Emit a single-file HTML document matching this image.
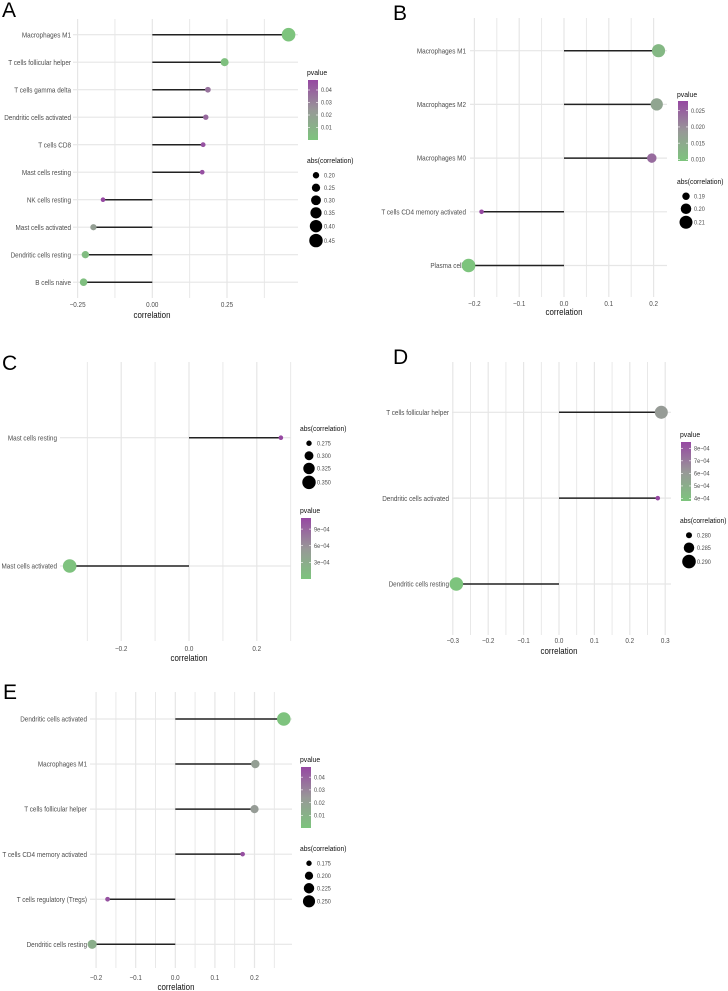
<!DOCTYPE html>
<html><head><meta charset="utf-8"><style>
html,body{margin:0;padding:0;background:#fff;}
svg{display:block;font-family:"Liberation Sans",Arial,sans-serif;}
</style></head><body>
<svg id="chart" width="728" height="991" viewBox="0 0 728 991" xmlns="http://www.w3.org/2000/svg"></svg>
<script>
// ---- Panel A data ----
const aCategories = ["Macrophages M1","T cells follicular helper","T cells gamma delta","Dendritic cells activated","T cells CD8","Mast cells resting","NK cells resting","Mast cells activated","Dendritic cells resting","B cells naive"];
const aCorrelation = [0.456,0.242,0.186,0.179,0.170,0.167,-0.165,-0.197,-0.224,-0.230];
const aPvalue = [0.0001,0.002,0.035,0.038,0.045,0.046,0.048,0.02,0.004,0.003];
const aTicks = [-0.25,0,0.25];
const aTickLabels = ["\u22120.25","0.00","0.25"];
const aPLegend = [0.04,0.03,0.02,0.01];
const aPLegendLabels = ["0.04","0.03","0.02","0.01"];
const aSizeLegend = [0.20,0.25,0.30,0.35,0.40,0.45];
const aSizeLegendLabels = ["0.20","0.25","0.30","0.35","0.40","0.45"];
// ---- Panel B data ----
const bCategories = ["Macrophages M1","Macrophages M2","Macrophages M0","T cells CD4 memory activated","Plasma cells"];
const bCorrelation = [0.211,0.207,0.196,-0.184,-0.213];
const bPvalue = [0.012,0.016,0.024,0.028,0.0095];
const bTicks = [-0.2,-0.1,0,0.1,0.2];
const bTickLabels = ["\u22120.2","\u22120.1","0.0","0.1","0.2"];
const bPLegend = [0.025,0.020,0.015,0.010];
const bPLegendLabels = ["0.025","0.020","0.015","0.010"];
const bSizeLegend = [0.19,0.20,0.21];
const bSizeLegendLabels = ["0.19","0.20","0.21"];
// ---- Panel C data ----
const cCategories = ["Mast cells resting","Mast cells activated"];
const cCorrelation = [0.271,-0.352];
const cPvalue = [0.0011,0.00002];
const cTicks = [-0.2,0,0.2];
const cTickLabels = ["\u22120.2","0.0","0.2"];
const cPLegend = [0.0009,0.0006,0.0003];
const cPLegendLabels = ["9e\u221204","6e\u221204","3e\u221204"];
const cSizeLegend = [0.275,0.300,0.325,0.350];
const cSizeLegendLabels = ["0.275","0.300","0.325","0.350"];
// ---- Panel D data ----
const dCategories = ["T cells follicular helper","Dendritic cells activated","Dendritic cells resting"];
const dCorrelation = [0.289,0.279,-0.290];
const dPvalue = [0.0006,0.00085,0.00038];
const dTicks = [-0.3,-0.2,-0.1,0,0.1,0.2,0.3];
const dTickLabels = ["\u22120.3","\u22120.2","\u22120.1","0.0","0.1","0.2","0.3"];
const dPLegend = [0.0008,0.0007,0.0006,0.0005,0.0004];
const dPLegendLabels = ["8e\u221204","7e\u221204","6e\u221204","5e\u221204","4e\u221204"];
const dSizeLegend = [0.280,0.285,0.290];
const dSizeLegendLabels = ["0.280","0.285","0.290"];
// ---- Panel E data ----
const eCategories = ["Dendritic cells activated","Macrophages M1","T cells follicular helper","T cells CD4 memory activated","T cells regulatory (Tregs)","Dendritic cells resting"];
const eCorrelation = [0.274,0.202,0.200,0.170,-0.171,-0.210];
const ePvalue = [0.0005,0.02,0.022,0.046,0.045,0.012];
const eTicks = [-0.2,-0.1,0,0.1,0.2];
const eTickLabels = ["\u22120.2","\u22120.1","0.0","0.1","0.2"];
const ePLegend = [0.04,0.03,0.02,0.01];
const ePLegendLabels = ["0.04","0.03","0.02","0.01"];
const eSizeLegend = [0.175,0.200,0.225,0.250];
const eSizeLegendLabels = ["0.175","0.200","0.225","0.250"];

const NS="http://www.w3.org/2000/svg";
const svg=document.getElementById('chart');
function mk(tag,attrs,parent){const e=document.createElementNS(NS,tag);for(const k in attrs)e.setAttribute(k,attrs[k]);(parent||svg).appendChild(e);return e;}
const G=[125,196,125],M=[152,152,152],P=[150,72,162];
function mix(a,b,t){return 'rgb('+a.map((v,i)=>Math.round(v+(b[i]-v)*t)).join(',')+')';}
function colorFor(t){t=Math.max(0,Math.min(1,t));return t<0.5?mix(G,M,t*2):mix(M,P,(t-0.5)*2);}
function squeeze(t,f){try{const w=t.getComputedTextLength();if(w>0){t.setAttribute('textLength',(w*f).toFixed(2));t.setAttribute('lengthAdjust','spacingAndGlyphs');}}catch(e){}}

function panel(L,cats,corr,pv,ticks,tickLabels,pLeg,pLegLab,sLeg,sLegLab){
  const g=mk('g',{});
  
  
  const xs=v=>L.zero+v*L.ppu;
  const ys=i=>L.row0+i*L.step;
  const step=ticks.length>1?(ticks[1]-ticks[0]):0.25;
  for(let v=L.gmin;v<=L.gmax+1e-9;v+=step/2){
    const gl=mk('line',{x1:xs(v),x2:xs(v),y1:L.top,y2:L.bottom,stroke:'#e6e6e6','stroke-width':Math.abs(Math.round(v/step*2))%2===0?1.2:0.9},g);
    
    
  }
  cats.forEach((c,i)=>{
    const hl=mk('line',{x1:L.hx0,x2:L.hx1,y1:ys(i),y2:ys(i),stroke:'#e6e6e6','stroke-width':1.2},g);
    
    
  });
  const ab=corr.map(Math.abs);const amin=Math.min(...ab),amax=Math.max(...ab);
  const rmin=2.3,rmax=6.8;
  const rOf=a=>{let t=(a-amin)/(amax-amin||1);t=Math.max(0,Math.min(1,t));return Math.sqrt(rmin*rmin+(rmax*rmax-rmin*rmin)*t);};
  const pmin=L.pmin,pmax=L.pmax;
  const cOf=p=>colorFor((p-pmin)/(pmax-pmin));
  cats.forEach((c,i)=>{
    const t=mk('text',{x:L.labelX,y:ys(i)+2.6,'text-anchor':'end','font-size':7.4,fill:'#4d4d4d'},g);t.textContent=c;
    
    
    squeeze(t,0.86);
    const s=mk('line',{x1:xs(0),x2:xs(corr[i]),y1:ys(i),y2:ys(i),stroke:'#222','stroke-width':1.5},g);
    
    
    const p=mk('circle',{cx:xs(corr[i]),cy:ys(i),r:rOf(Math.abs(corr[i])),fill:cOf(pv[i])},g);
    
    
  });
  ticks.forEach((v,i)=>{
    const t=mk('text',{x:xs(v),y:L.tickY,'text-anchor':'middle','font-size':7,fill:'#4d4d4d'},g);t.textContent=tickLabels[i];
    
    
    squeeze(t,0.9);
  });
  const xt=mk('text',{x:L.titleX,y:L.titleY,'text-anchor':'middle','font-size':8.8,fill:'#111'},g);xt.textContent='correlation';
  
  
  squeeze(xt,0.9);
  const lt=mk('text',{x:L.lx,y:L.letterY,'font-size':21,fill:'#000'},g);lt.textContent=L.letter;
  
  
  const pg=mk('g',{},g);
  
  
  const pt=mk('text',{x:L.plx,y:L.pTitleY,'font-size':7.6,fill:'#111'},pg);pt.textContent='pvalue';
  squeeze(pt,0.9);
  const gid='grad'+L.letter;
  const defs=mk('defs',{},pg);const lg=mk('linearGradient',{id:gid,x1:0,y1:1,x2:0,y2:0},defs);
  [0,0.5,1].forEach(o=>mk('stop',{offset:o,'stop-color':colorFor(o)},lg));
  mk('rect',{x:L.plx+1,y:L.barTop,width:10,height:L.barBot-L.barTop,fill:'url(#'+gid+')'},pg);
  const by=p=>L.barBot-(p-pmin)/(pmax-pmin)*(L.barBot-L.barTop);
  pLeg.forEach((p,i)=>{
    mk('line',{x1:L.plx+1,x2:L.plx+3,y1:by(p),y2:by(p),stroke:'#fff','stroke-width':0.6},pg);
    mk('line',{x1:L.plx+9,x2:L.plx+11,y1:by(p),y2:by(p),stroke:'#fff','stroke-width':0.6},pg);
    const t=mk('text',{x:L.plx+14,y:by(p)+2.2,'font-size':6.3,fill:'#4d4d4d'},pg);t.textContent=pLegLab[i];
    squeeze(t,0.88);
  });
  const sg=mk('g',{},g);
  
  
  const st=mk('text',{x:L.plx,y:L.sTitleY,'font-size':7.6,fill:'#111'},sg);st.textContent='abs(correlation)';
  squeeze(st,0.88);
  let yy=L.sTitleY+6;
  sLeg.forEach((a,i)=>{
    const r=rOf(a);const h=Math.max(2*r+1.5,12.5);
    const cy=yy+h/2;
    mk('circle',{cx:L.plx+9,cy:cy,r:r,fill:'#000'},sg);
    const t=mk('text',{x:L.plx+17,y:cy+2.2,'font-size':6.3,fill:'#4d4d4d'},sg);t.textContent=sLegLab[i];
    squeeze(t,0.88);
    yy+=h;
  });
}

panel({letter:'A',lx:2,letterY:17,zero:152.3,ppu:298.8,gmin:-0.25,gmax:0.375,top:19,bottom:298,hx0:73,hx1:298,row0:34.7,step:27.5,labelX:71,tickY:307,titleX:152,titleY:318,pmin:0,pmax:0.048,plx:307,pTitleY:75,barTop:80,barBot:140,sTitleY:163},
  aCategories,aCorrelation,aPvalue,aTicks,aTickLabels,aPLegend,aPLegendLabels,aSizeLegend,aSizeLegendLabels);
panel({letter:'B',lx:393,letterY:20,zero:564,ppu:448,gmin:-0.2,gmax:0.2,top:18,bottom:297,hx0:470,hx1:667,row0:50.7,step:53.7,labelX:466,tickY:306,titleX:564,titleY:315,pmin:0.0095,pmax:0.028,plx:677,pTitleY:97,barTop:101,barBot:161,sTitleY:184},
  bCategories,bCorrelation,bPvalue,bTicks,bTickLabels,bPLegend,bPLegendLabels,bSizeLegend,bSizeLegendLabels);
panel({letter:'C',lx:2,letterY:370,zero:189,ppu:339,gmin:-0.3,gmax:0.3,top:362,bottom:641,hx0:60,hx1:291,row0:437.7,step:128.3,labelX:57,tickY:651,titleX:189,titleY:661,pmin:0,pmax:0.0011,plx:300,pTitleY:513,barTop:518,barBot:579,sTitleY:431},
  cCategories,cCorrelation,cPvalue,cTicks,cTickLabels,cPLegend,cPLegendLabels,cSizeLegend,cSizeLegendLabels);
panel({letter:'D',lx:393,letterY:364,zero:559,ppu:354,gmin:-0.3,gmax:0.3,top:362,bottom:635,hx0:452,hx1:671,row0:412.3,step:85.85,labelX:449,tickY:643,titleX:559,titleY:654,pmin:0.00038,pmax:0.00085,plx:680,pTitleY:437,barTop:442,barBot:501,sTitleY:523},
  dCategories,dCorrelation,dPvalue,dTicks,dTickLabels,dPLegend,dPLegendLabels,dSizeLegend,dSizeLegendLabels);
panel({letter:'E',lx:3,letterY:699,zero:175.3,ppu:396,gmin:-0.2,gmax:0.25,top:692,bottom:968,hx0:90,hx1:292,row0:719,step:45.06,labelX:87,tickY:980,titleX:176,titleY:990,pmin:0,pmax:0.048,plx:300,pTitleY:762,barTop:767,barBot:828,sTitleY:851},
  eCategories,eCorrelation,ePvalue,eTicks,eTickLabels,ePLegend,ePLegendLabels,eSizeLegend,eSizeLegendLabels);
</script>
</body></html>
